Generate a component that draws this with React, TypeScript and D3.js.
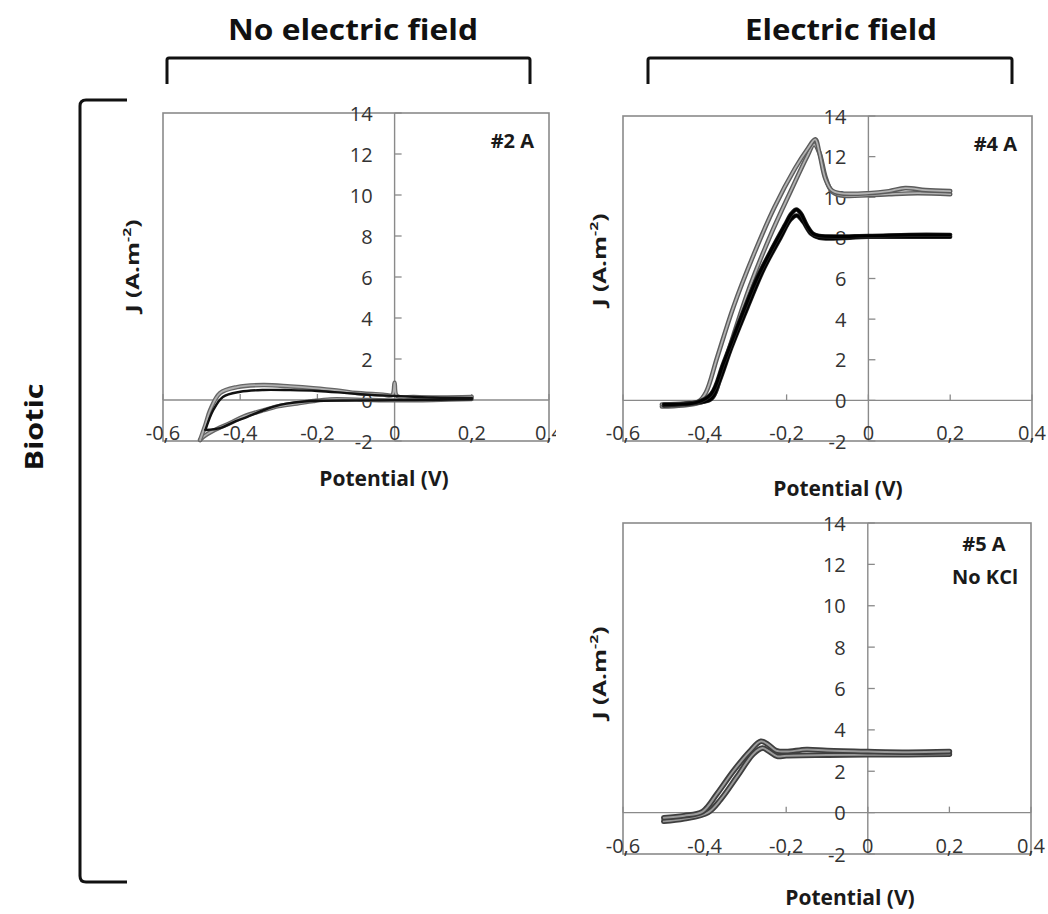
import React from 'react';
import * as d3 from 'd3';

type Pt = [number, number];

const X_DOMAIN: [number, number] = [-0.6, 0.4];
const Y_DOMAIN: [number, number] = [-2, 14];
const X_TICKS = [-0.6, -0.4, -0.2, 0, 0.2, 0.4];
const X_TICK_LABELS = ['-0,6', '-0,4', '-0,2', '0', '0,2', '0,4'];
const Y_TICKS = [-2, 0, 2, 4, 6, 8, 10, 12, 14];
const Y_TICK_LABELS = ['-2', '0', '2', '4', '6', '8', '10', '12', '14'];

const HEADERS = ['No electric field', 'Electric field'];
const ROW_LABEL = 'Biotic';
const X_LABEL = 'Potential (V)';

// Panel #2 A (no electric field)
const p2aGrayFwd: Pt[] = [
  [-0.504, -1.95], [-0.49, -1.2], [-0.478, -0.5], [-0.452, 0.34], [-0.408, 0.63], [-0.34, 0.73],
  [-0.27, 0.66], [-0.211, 0.58], [-0.15, 0.47], [-0.097, 0.34], [-0.03, 0.26], [-0.006, 0.24],
  [0, 0.85], [0.006, 0.2], [0.05, 0.15], [0.12, 0.13], [0.2, 0.15],
];
const p2aGrayRev: Pt[] = [
  [0.2, 0.05], [0.1, 0.0], [0.0, -0.02], [-0.1, 0.02], [-0.167, 0.03], [-0.21, -0.05], [-0.253, -0.17],
  [-0.3, -0.3], [-0.34, -0.5], [-0.39, -0.8], [-0.426, -1.12], [-0.47, -1.5], [-0.496, -1.8], [-0.504, -1.95],
];
const p2aBlackFwd: Pt[] = [
  [-0.49, -1.46], [-0.47, -0.5], [-0.445, 0.15], [-0.4, 0.4], [-0.34, 0.49], [-0.27, 0.48],
  [-0.2, 0.44], [-0.13, 0.35], [-0.06, 0.25], [0, 0.2], [0.1, 0.12], [0.2, 0.1],
];
const p2aBlackRev: Pt[] = [
  [0.2, 0.04], [0.05, 0.0], [-0.1, -0.02], [-0.2, -0.04], [-0.26, -0.12], [-0.297, -0.24],
  [-0.34, -0.5], [-0.383, -0.83], [-0.42, -1.1], [-0.452, -1.37], [-0.49, -1.46],
];

// Panel #4 A (electric field)
const p4aGrayFwd: Pt[] = [
  [-0.505, -0.2], [-0.45, -0.15], [-0.415, -0.05], [-0.397, 0.4], [-0.37, 2.1], [-0.33, 4.6],
  [-0.28, 7.2], [-0.23, 9.5], [-0.18, 11.4], [-0.148, 12.4], [-0.13, 12.85], [-0.12, 12.2],
  [-0.105, 10.9], [-0.09, 10.35], [-0.07, 10.2], [0, 10.2], [0.05, 10.3], [0.09, 10.45],
  [0.14, 10.35], [0.2, 10.3],
];
const p4aGrayRev: Pt[] = [
  [0.2, 10.15], [0.12, 10.2], [0.05, 10.15], [0, 10.1], [-0.07, 10.1], [-0.09, 10.3],
  [-0.105, 11.0], [-0.12, 12.2], [-0.133, 12.6], [-0.15, 12.0], [-0.19, 10.3], [-0.24, 8.1],
  [-0.29, 5.6], [-0.33, 3.2], [-0.36, 1.3], [-0.38, 0.2], [-0.42, -0.15], [-0.505, -0.3],
];
const p4aBlackFwd: Pt[] = [
  [-0.5, -0.2], [-0.42, -0.1], [-0.385, 0.3], [-0.355, 1.8], [-0.315, 3.9], [-0.275, 5.9],
  [-0.235, 7.5], [-0.205, 8.6], [-0.188, 9.2], [-0.176, 9.4], [-0.165, 9.2], [-0.15, 8.6],
  [-0.135, 8.2], [-0.12, 8.1], [0, 8.1], [0.1, 8.15], [0.2, 8.15],
];
const p4aBlackRev: Pt[] = [
  [0.2, 8.05], [0.1, 8.05], [0, 8.05], [-0.12, 8.0], [-0.14, 8.2], [-0.16, 8.8], [-0.175, 9.1],
  [-0.19, 8.9], [-0.215, 8.0], [-0.255, 6.5], [-0.295, 4.6], [-0.335, 2.6], [-0.365, 0.9],
  [-0.385, 0.05], [-0.44, -0.15], [-0.5, -0.25],
];

// Panel #5 A (electric field, no KCl)
const p5aFwd: Pt[] = [
  [-0.5, -0.25], [-0.45, -0.15], [-0.405, 0.05], [-0.37, 0.9], [-0.33, 2.0], [-0.29, 2.95],
  [-0.262, 3.45], [-0.245, 3.3], [-0.225, 3.0], [-0.2, 2.95], [-0.15, 3.05], [-0.1, 3.0],
  [0, 2.95], [0.1, 2.92], [0.2, 2.95],
];
const p5aRev: Pt[] = [
  [0.2, 2.82], [0.1, 2.8], [0, 2.8], [-0.1, 2.78], [-0.2, 2.75], [-0.222, 2.72], [-0.245, 3.0],
  [-0.258, 3.12], [-0.28, 2.85], [-0.32, 1.75], [-0.36, 0.65], [-0.392, 0.0], [-0.45, -0.3],
  [-0.5, -0.42],
];

type StyleKey = 'gray' | 'black' | 'dark' | 'grayThin' | 'blackThin';
type Series = { data: Pt[]; style: StyleKey };

type Box = { left: number; top: number; right: number; bottom: number };
type PanelProps = {
  box: Box;
  series: Series[];
  tags: { text: string; x: number; y: number; anchor: 'start' | 'middle' | 'end' }[];
  xLabel: { x: number; y: number };
  yLabel: { x: number; y: number };
  clipRight: number;
};

const FONT = "'Open Sans', 'DejaVu Sans', sans-serif";

const strokeLayers: Record<StyleKey, { color: string; width: number }[]> = {
  gray: [
    { color: '#5c5c5c', width: 4.6 },
    { color: '#b3b3b3', width: 1.8 },
  ],
  grayThin: [
    { color: '#666666', width: 4.4 },
    { color: '#b0b0b0', width: 1.8 },
  ],
  black: [
    { color: '#2a2a2a', width: 4.4 },
    { color: '#000000', width: 3.0 },
  ],
  blackThin: [{ color: '#111111', width: 2.4 }],
  dark: [
    { color: '#3f3f3f', width: 5.6 },
    { color: '#9a9a9a', width: 2.0 },
  ],
};

function Panel({ box, series, tags, xLabel, yLabel, clipRight }: PanelProps) {
  const x = d3.scaleLinear().domain(X_DOMAIN).range([box.left, box.right]);
  const y = d3.scaleLinear().domain(Y_DOMAIN).range([box.bottom, box.top]);
  const line = d3
    .line<Pt>()
    .x((d) => x(d[0]))
    .y((d) => y(d[1]))
    .curve(d3.curveCatmullRom.alpha(0.5));
  const x0 = x(0);
  const y0 = y(0);
  const axisColor = '#8a8a8a';
  const id = `clip-${Math.round(box.left)}-${Math.round(box.top)}`;
  return (
    <g>
      <defs>
        <clipPath id={id}>
          <rect x={box.left - 60} y={box.top - 20} width={clipRight - box.left + 60} height={box.bottom - box.top + 40} />
        </clipPath>
      </defs>
      <g clipPath={`url(#${id})`}>
        <rect
          x={box.left}
          y={box.top}
          width={box.right - box.left}
          height={box.bottom - box.top}
          fill="white"
          stroke={axisColor}
          strokeWidth={1.6}
        />
        <line x1={box.left} x2={box.right} y1={y0} y2={y0} stroke={axisColor} strokeWidth={1.4} />
        <line x1={x0} x2={x0} y1={box.top} y2={box.bottom} stroke={axisColor} strokeWidth={1.4} />
        {Y_TICKS.map((t) => (
          <line key={'yt' + t} x1={x0} x2={x0 + 7} y1={y(t)} y2={y(t)} stroke={axisColor} strokeWidth={1.3} />
        ))}
        {X_TICKS.map((t) => (
          <line key={'xt' + t} x1={x(t)} x2={x(t)} y1={y0} y2={y0 - 6} stroke={axisColor} strokeWidth={1.3} />
        ))}
        {Y_TICKS.map((t, i) => (
          <text
            key={'yl' + t}
            x={x0 - 22}
            y={y(t)}
            textAnchor="end"
            dominantBaseline="central"
            fontFamily={FONT}
            fontSize={20}
            fill="#333"
          >
            {Y_TICK_LABELS[i]}
          </text>
        ))}
        {X_TICKS.map((t, i) => (
          <text
            key={'xl' + t}
            x={x(t)}
            y={box.bottom - 9}
            textAnchor="middle"
            dominantBaseline="central"
            fontFamily={FONT}
            fontSize={20}
            fill="#333"
          >
            {X_TICK_LABELS[i]}
          </text>
        ))}
        {series.map((s, si) =>
          strokeLayers[s.style].map((layer, li) => (
            <path
              key={`s${si}-${li}`}
              d={line(s.data) || ''}
              fill="none"
              stroke={layer.color}
              strokeWidth={layer.width}
              strokeLinejoin="round"
              strokeLinecap="round"
            />
          ))
        )}
        {tags.map((t) => (
          <text
            key={t.text}
            x={t.x}
            y={t.y}
            textAnchor={t.anchor}
            dominantBaseline="central"
            fontFamily={FONT}
            fontWeight="bold"
            fontSize={20}
            fill="#1a1a1a"
          >
            {t.text}
          </text>
        ))}
      </g>
      <text
        x={xLabel.x}
        y={xLabel.y}
        textAnchor="middle"
        dominantBaseline="central"
        fontFamily={FONT}
        fontWeight="bold"
        fontSize={21}
        fill="#1a1a1a"
      >
        {X_LABEL}
      </text>
      <text
        transform={`translate(${yLabel.x},${yLabel.y}) rotate(-90)`}
        textAnchor="middle"
        dominantBaseline="central"
        fontFamily={FONT}
        fontWeight="bold"
        fontSize={17}
        fill="#1a1a1a"
        textLength={93}
        lengthAdjust="spacingAndGlyphs"
      >
        J (A.m
        <tspan fontSize={11} dy={-6}>
          -2
        </tspan>
        <tspan dy={6}>)</tspan>
      </text>
    </g>
  );
}

export default function App() {
  return (
    <svg
      width={1048}
      height={914}
      style={{ position: 'absolute', left: 0, top: 0, background: 'white' }}
    >
      <rect x={0} y={0} width={1048} height={914} fill="white" />
      <text x={353} y={28} textAnchor="middle" dominantBaseline="central" fontFamily={FONT} fontWeight="bold" fontSize={29} textLength={250} lengthAdjust="spacingAndGlyphs" fill="#111">
        {HEADERS[0]}
      </text>
      <text x={841} y={28} textAnchor="middle" dominantBaseline="central" fontFamily={FONT} fontWeight="bold" fontSize={29} textLength={192} lengthAdjust="spacingAndGlyphs" fill="#111">
        {HEADERS[1]}
      </text>
      <path d="M167,84 L167,60 Q167,58 169,58 L528,58 Q530,58 530,60 L530,84" fill="none" stroke="#111" strokeWidth={3} />
      <path d="M648,84 L648,60 Q648,58 650,58 L1010,58 Q1012,58 1012,60 L1012,84" fill="none" stroke="#111" strokeWidth={3} />
      <path d="M127,100 L86,100 Q80,100 80,106 L80,876 Q80,882 86,882 L127,882" fill="none" stroke="#111" strokeWidth={3} />
      <text
        transform="translate(33,427) rotate(-90)"
        textAnchor="middle"
        dominantBaseline="central"
        fontFamily={FONT}
        fontWeight="bold"
        fontSize={25}
        textLength={87}
        lengthAdjust="spacingAndGlyphs"
        fill="#111"
      >
        {ROW_LABEL}
      </text>

      <Panel
        box={{ left: 163, top: 113, right: 549, bottom: 441 }}
        series={[
          { data: p2aGrayRev, style: 'grayThin' },
          { data: p2aGrayFwd, style: 'grayThin' },
          { data: p2aBlackRev, style: 'blackThin' },
          { data: p2aBlackFwd, style: 'blackThin' },
        ]}
        tags={[{ text: '#2 A', x: 534, y: 140, anchor: 'end' }]}
        xLabel={{ x: 384, y: 478 }}
        yLabel={{ x: 132, y: 266 }}
        clipRight={556}
      />
      <Panel
        box={{ left: 623, top: 116, right: 1032, bottom: 441 }}
        series={[
          { data: p4aGrayRev, style: 'gray' },
          { data: p4aGrayFwd, style: 'gray' },
          { data: p4aBlackRev, style: 'black' },
          { data: p4aBlackFwd, style: 'black' },
        ]}
        tags={[{ text: '#4 A', x: 1017, y: 143, anchor: 'end' }]}
        xLabel={{ x: 838, y: 488 }}
        yLabel={{ x: 599, y: 260 }}
        clipRight={1048}
      />
      <Panel
        box={{ left: 623, top: 523, right: 1031, bottom: 854 }}
        series={[
          { data: p5aRev, style: 'dark' },
          { data: p5aFwd, style: 'dark' },
        ]}
        tags={[
          { text: '#5 A', x: 984, y: 543, anchor: 'middle' },
          { text: 'No KCl', x: 985, y: 576, anchor: 'middle' },
        ]}
        xLabel={{ x: 850, y: 897 }}
        yLabel={{ x: 599, y: 673 }}
        clipRight={1048}
      />
    </svg>
  );
}
